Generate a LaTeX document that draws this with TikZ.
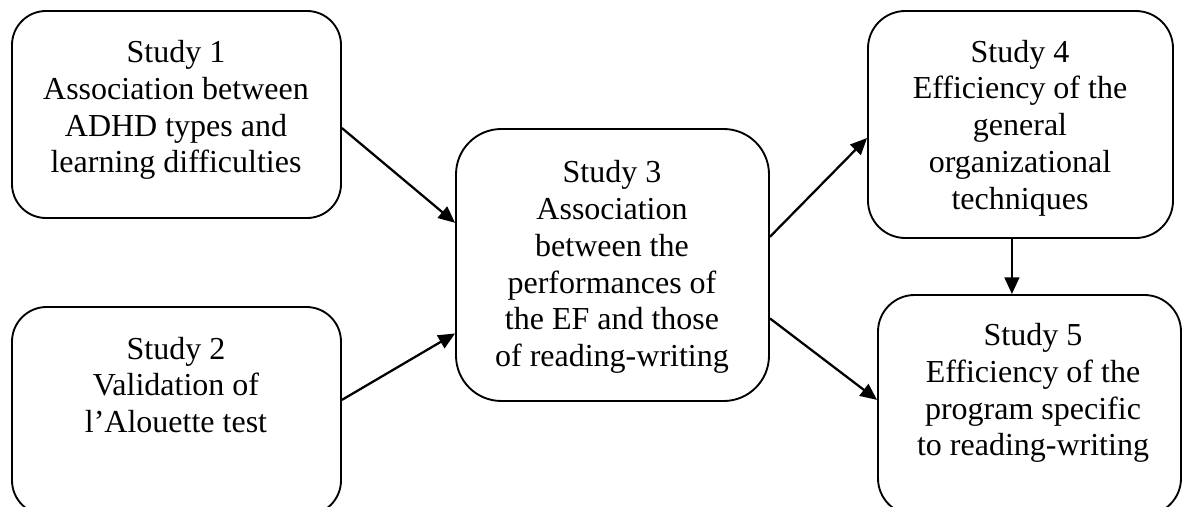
\documentclass[tikz,border=0pt]{standalone}
\usepackage{fontspec}
\setmainfont{Liberation Serif}
\usetikzlibrary{arrows.meta,calc,fit}
\begin{document}
\begin{tikzpicture}[x=0.75pt,y=-0.75pt,
  studybox/.style={draw,line width=1.4pt,inner sep=0pt},
  txt/.style={align=center,inner sep=0pt,font=\fontsize{24pt}{27.6pt}\selectfont},
  conn/.style={line width=1.7pt,-{Triangle[length=12.5pt,width=11pt]}}]
\useasboundingbox (0,0) rectangle (1182,507);
\begin{scope}
\clip (0,0) rectangle (1182,507);
\node[studybox,rounded corners=25.5pt,fit={(12,11) (341,218)}] (b1) {};
\node[studybox,rounded corners=26pt,fit={(12,307) (341,515)}] (b2) {};
\node[studybox,rounded corners=34pt,fit={(456,129) (769,401)}] (b3) {};
\node[studybox,rounded corners=28pt,fit={(868,11) (1173,238)}] (b4) {};
\node[studybox,rounded corners=27.5pt,fit={(878,295) (1181,515)}] (b5) {};
\end{scope}
\node[txt] (t1) at (176,110) {Study 1\\Association between\\ADHD types and\\learning difficulties};
\node[txt] (t2) at (176,385) {Study 2\\Validation of\\l’Alouette test};
\node[txt] (t3) at (612,267) {Study 3\\Association\\between the\\performances of\\the EF and those\\of reading-writing};
\node[txt] (t4) at (1020,128) {Study 4\\Efficiency of the\\general\\organizational\\techniques};
\node[txt] (t5) at (1033,393) {Study 5\\Efficiency of the\\program specific\\to reading-writing};
\draw[conn] ($(b1.north east)!0.565!(b1.south east)$) -- ($(b3.north west)!0.346!(b3.south west)$);
\draw[conn] ($(b2.north east)!0.447!(b2.south east)$) -- ($(b3.north west)!0.75!(b3.south west)$);
\draw[conn] ($(b3.north east)!0.397!(b3.south east)$) -- ($(b4.north west)!0.559!(b4.south west)$);
\draw[conn] ($(b3.north east)!0.695!(b3.south east)$) -- ($(b5.north west)!0.477!(b5.south west)$);
\coordinate (d4) at ($(b4.south west)!0.472!(b4.south east)$);
\draw[conn] (d4) -- (d4 |- b5.north);
\end{tikzpicture}
\end{document}
